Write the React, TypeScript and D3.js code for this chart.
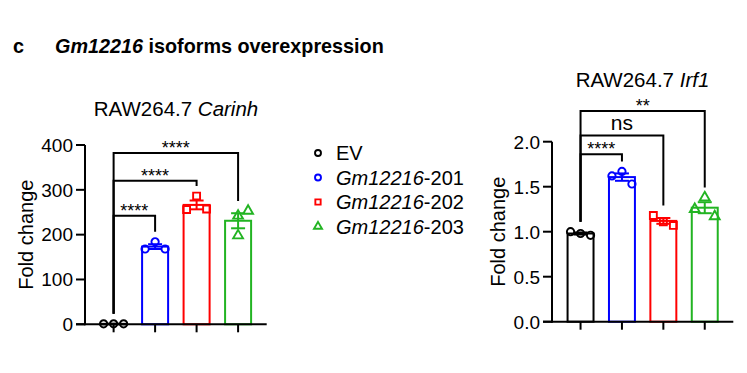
import React from 'react'
import * as d3 from 'd3'

// groups, colours and markers shared by both panels
const groups = ['EV', 'Gm12216-201', 'Gm12216-202', 'Gm12216-203']
const colors = ['#000000', '#0000ff', '#ff0000', '#22b422']
const shapes = [d3.symbolCircle, d3.symbolCircle, d3.symbolSquare, d3.symbolTriangle]

// RAW264.7 Carinh (fold change), three replicates per group
const carinhEV = [1, 1, 1]
const carinh201 = [168, 184, 168]
const carinh202 = [256, 286, 257]
const carinh203 = [242, 198, 253]
const carinhTicks = [0, 100, 200, 300, 400]
const carinhComparisons = [
  { to: 1, label: '****', y: 242 },
  { to: 2, label: '****', y: 320 },
  { to: 3, label: '****', y: 382 }
]

// RAW264.7 Irf1 (fold change)
const irf1EV = [1.0, 0.98, 0.96]
const irf1201 = [1.62, 1.67, 1.53]
const irf1202 = [1.18, 1.11, 1.07]
const irf1203 = [1.25, 1.38, 1.17]
const irf1Ticks = [0, 0.5, 1.0, 1.5, 2.0]
const irf1Comparisons = [
  { to: 1, label: '****', y: 1.86 },
  { to: 2, label: 'ns', y: 2.07 },
  { to: 3, label: '**', y: 2.34 }
]

// horizontal slot of each replicate dot inside its bar (-1 left, 0 middle, 1 right)
const carinhSlots = [[-1, 0, 1], [-1, 0, 1], [-1, 0, 1], [0, 0, 1]]
const irf1Slots = [[-1, 0, 1], [-1, 0, 1], [-1, 0, 1], [-1, 0, 1]]

const FONT = "Arial, 'Liberation Sans', Helvetica, sans-serif"

const sem = (v) => d3.deviation(v) / Math.sqrt(v.length)

function Panel ({ x0, x1, y0, y1, domain, ticks, fmt, points, slots, comparisons, title, titleX, titleY, labelX }) {
  const x = d3.scaleBand().domain(groups).range([x0, x1]).paddingInner(0.373).paddingOuter(0.376)
  const y = d3.scaleLinear().domain(domain).range([y0, y1])
  const bw = x.bandwidth()
  const cx = (i) => x(groups[i]) + bw / 2
  const tops = points.map((p) => Math.max(d3.max(p), d3.mean(p) + sem(p)))

  return (
    <g>
      <text x={titleX} y={titleY} textAnchor='middle' fontSize={20.5} fontFamily={FONT}>
        RAW264.7 <tspan fontStyle='italic'>{title}</tspan>
      </text>

      {/* bars */}
      {points.map((p, i) => (
        <rect key={'b' + i} x={x(groups[i])} y={y(d3.mean(p))} width={bw} height={y0 - y(d3.mean(p))}
          fill='white' stroke={colors[i]} strokeWidth={2} />
      ))}

      {/* error bars (mean ± SEM) */}
      {points.map((p, i) => {
        const m = d3.mean(p)
        const s = sem(p)
        const c = cx(i)
        return (
          <g key={'e' + i} stroke={colors[i]} strokeWidth={2}>
            <line x1={c} x2={c} y1={y(m - s)} y2={y(m + s)} />
            <line x1={c - 7} x2={c + 7} y1={y(m + s)} y2={y(m + s)} />
            <line x1={c - 7} x2={c + 7} y1={y(m - s)} y2={y(m - s)} />
          </g>
        )
      })}

      {/* replicate dots */}
      {points.map((p, i) => p.map((v, j) => (
        <path key={'p' + i + j} d={d3.symbol(shapes[i], i === 2 ? 48 : 42)()}
          transform={`translate(${cx(i) + slots[i][j] * 10},${y(v)})`}
          fill='none' stroke={colors[i]} strokeWidth={1.9} />
      )))}

      {/* axes */}
      <line x1={x0} x2={x0} y1={y0 + 1} y2={y1} stroke='black' strokeWidth={2} />
      <line x1={x0 - 9} x2={x1} y1={y0} y2={y0} stroke='black' strokeWidth={2} />
      {ticks.map((t) => (
        <g key={'t' + t}>
          <line x1={x0 - 9} x2={x0} y1={y(t)} y2={y(t)} stroke='black' strokeWidth={2} />
          <text x={x0 - 12} y={y(t)} dy='0.36em' textAnchor='end' fontSize={19} fontFamily={FONT}>{fmt(t)}</text>
        </g>
      ))}
      {groups.map((g, i) => (
        <line key={'x' + i} x1={cx(i)} x2={cx(i)} y1={y0} y2={y0 + 8} stroke='black' strokeWidth={2} />
      ))}
      <text transform={`translate(${labelX},${(y0 + y1) / 2}) rotate(-90)`} dy='0.35em' textAnchor='middle'
        fontSize={20} fontFamily={FONT}>Fold change</text>

      {/* significance brackets */}
      {comparisons.map((c, k) => {
        const by = y(c.y)
        const a = cx(0)
        const b = cx(c.to)
        const ns = c.label === 'ns'
        return (
          <g key={'c' + k}>
            <path d={`M${a},${y(tops[0]) - 10}V${by}H${b}V${y(tops[c.to]) - 10}`}
              fill='none' stroke='black' strokeWidth={2} />
            <text x={(a + b) / 2} y={ns ? by - 5 : by + 1} textAnchor='middle'
              fontSize={ns ? 21 : 18} fontFamily={FONT}>{c.label}</text>
          </g>
        )
      })}
    </g>
  )
}

function Legend () {
  const rows = [153, 177.5, 202, 226.5]
  return (
    <g>
      {groups.map((g, i) => (
        <g key={g}>
          <path d={d3.symbol(shapes[i], 28)()} transform={`translate(318,${rows[i]})`}
            fill='none' stroke={colors[i]} strokeWidth={1.9} />
          <text x={336} y={rows[i]} dy='0.36em' fontSize={20} fontFamily={FONT}>
            {i === 0 ? 'EV' : <><tspan fontStyle='italic'>Gm12216</tspan>{g.slice(7)}</>}
          </text>
        </g>
      ))}
    </g>
  )
}

export default function App () {
  return (
    <svg width={747} height={373} style={{ position: 'absolute', left: 0, top: 0, background: 'white' }}>
      <rect width={747} height={373} fill='white' />
      <text x={13} y={53} fontSize={19.8} fontWeight='bold' fontFamily={FONT}>c</text>
      <text x={55} y={53} fontSize={19.8} fontWeight='bold' fontFamily={FONT}>
        <tspan fontStyle='italic'>Gm12216</tspan> isoforms overexpression
      </text>

      <Panel x0={85} x1={266.7} y0={324.3} y1={145} domain={[0, 400]} ticks={carinhTicks}
        fmt={d3.format('d')} points={[carinhEV, carinh201, carinh202, carinh203]} slots={carinhSlots}
        comparisons={carinhComparisons} title='Carinh' titleX={176} titleY={116} labelX={25.5} />

      <Legend />

      <Panel x0={552} x1={733.3} y0={321.7} y1={141.7} domain={[0, 2]} ticks={irf1Ticks}
        fmt={d3.format('.1f')} points={[irf1EV, irf1201, irf1202, irf1203]} slots={irf1Slots}
        comparisons={irf1Comparisons} title='Irf1' titleX={642.5} titleY={87} labelX={498} />
    </svg>
  )
}
